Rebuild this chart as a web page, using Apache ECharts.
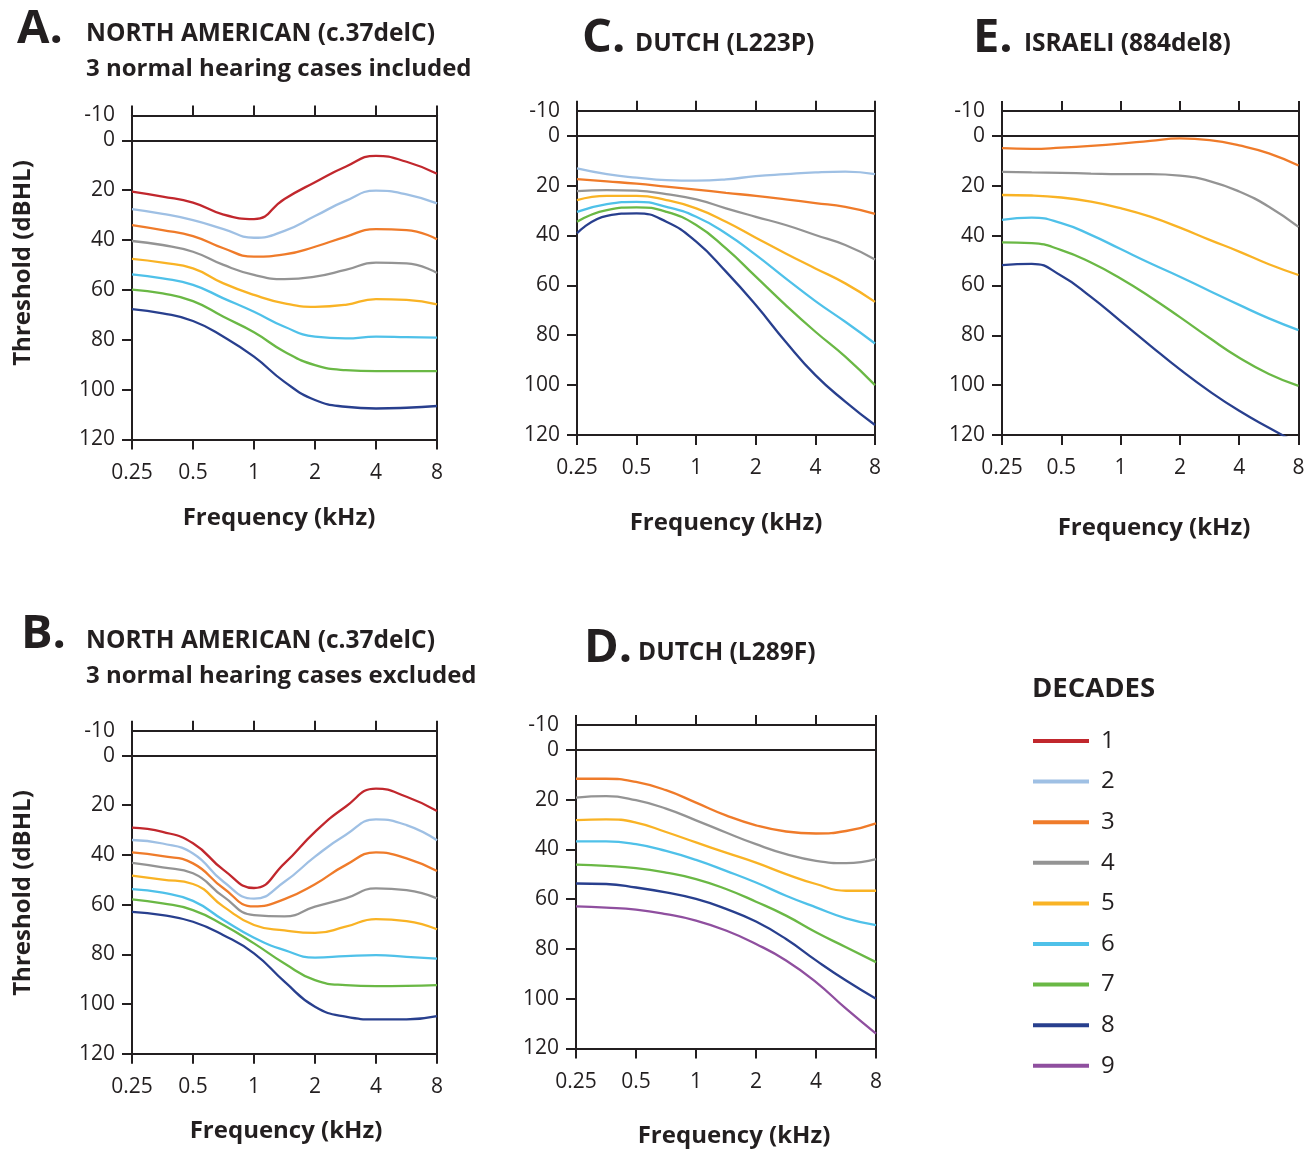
<!DOCTYPE html>
<html>
<head>
<meta charset="utf-8">
<script src="https://cdn.jsdelivr.net/npm/echarts@6/dist/echarts.min.js"></script>
<style>
  html, body { margin: 0; padding: 0; background: #fff; }
  #chart { width: 1309px; height: 1149px; }
</style>
</head>
<body>
<div id="chart"></div>
<script>
const FONT = '"Open Sans", "Noto Sans", sans-serif';
const INK = "#231f20";

// frequencies in kHz (octaves + half octaves)
const freqs = [0.25, 0.354, 0.5, 0.707, 1, 1.414, 2, 2.83, 4, 5.66, 8];
const decadeNames = ["1", "2", "3", "4", "5", "6", "7", "8", "9"];
const decadeColors = ["#c1272d", "#9fc0e4", "#ef7b2a", "#949494", "#f9b325", "#4fc1e9", "#6ab845", "#283f8e", "#8f4f9f"];
const yLabelValues = [-10, 0, 20, 40, 60, 80, 100, 120];
const yTickValues = [0, 20, 40, 60, 80, 100, 120];

// A. North American, normal hearing included
const decadesA = [1, 2, 3, 4, 5, 6, 7, 8];
const thresholdsA = [
  [20.6, 22.6, 25, 29.8, 31.6, 23.5, 16.8, 10.6, 6.2, 8.6, 13.4],
  [27.6, 29.5, 32, 35.6, 39.1, 36.3, 30.4, 24.3, 20.2, 21.7, 25.3],
  [34, 36, 38.4, 43.3, 46.7, 45.8, 42.7, 38.7, 35.6, 36, 39.7],
  [40.4, 42, 44.7, 50, 54, 55.7, 54.7, 52, 49.1, 49.4, 53.2],
  [47.6, 49.1, 51.4, 57.4, 62, 65.4, 66.8, 66, 63.7, 64, 65.8],
  [53.8, 55.4, 58, 63.4, 68.8, 74.8, 78.8, 79.5, 78.8, 79, 79.2],
  [59.9, 61.4, 64.5, 70.8, 77, 84.8, 90.2, 92.2, 92.6, 92.6, 92.6],
  [67.7, 69.4, 72.5, 78.8, 86.8, 96.9, 104.2, 106.9, 107.6, 107.3, 106.6],
];

// B. North American, normal hearing excluded
const decadesB = [1, 2, 3, 4, 5, 6, 7, 8];
const thresholdsB = [
  [29, 30.7, 35.3, 46, 53.3, 43.4, 30.7, 20.6, 13.3, 16.6, 22.3],
  [34, 35.4, 39.4, 50.8, 57.6, 50.8, 40.7, 32, 25.7, 28, 34.1],
  [39, 40.5, 43.4, 53.4, 60.7, 57.8, 51.8, 44.1, 39, 41.4, 46.5],
  [43.2, 45, 47.4, 56.8, 64.2, 64.7, 60.8, 57.5, 53.5, 54.2, 57.5],
  [48.3, 49.9, 51.7, 60.8, 68.2, 70.4, 71.4, 68.9, 65.8, 66.6, 69.9],
  [53.8, 55.2, 58.5, 66.2, 73.3, 78.3, 81.3, 80.7, 80.3, 81, 81.7],
  [57.9, 59.5, 62.2, 68.2, 75.6, 83.7, 90.4, 92.4, 92.8, 92.7, 92.4],
  [62.9, 64.2, 66.9, 72.3, 79.6, 91, 101.1, 105.1, 106.2, 106.2, 104.9],
];

// C. Dutch (L223P)
const decadesC = [2, 3, 4, 5, 6, 7, 8];
const thresholdsC = [
  [13.1, 15.4, 16.8, 17.8, 18, 17.5, 16.2, 15.4, 14.7, 14.4, 15.4],
  [17.4, 18.3, 19.2, 20.4, 21.6, 22.9, 24.1, 25.5, 27, 28.5, 31.3],
  [22.2, 21.8, 22, 23.4, 25.5, 29.1, 32.5, 35.8, 39.8, 43.8, 49.6],
  [25.8, 24.1, 24.1, 25.8, 29.1, 34.5, 40.9, 47.2, 53.2, 59.2, 66.6],
  [30.5, 27.4, 26.5, 28.5, 32.5, 39.2, 47.8, 57.2, 66.3, 74.6, 83.3],
  [34.5, 29.8, 28.7, 30.5, 35.8, 45.2, 56.5, 67.9, 78.6, 88.6, 100],
  [39.1, 32.1, 31.1, 34.5, 42.5, 54.5, 67.9, 82.6, 96, 106.6, 116],
];

// D. Dutch (L289F)
const decadesD = [3, 4, 5, 6, 7, 8, 9];
const thresholdsD = [
  [11.6, 11.6, 12.9, 16.2, 21.2, 26.3, 30.3, 32.8, 33.6, 32.6, 29.5],
  [19.2, 18.6, 20.2, 23.6, 28.3, 33.2, 37.9, 41.9, 44.6, 45.5, 43.9],
  [28.2, 27.9, 29.2, 33, 37.2, 41.3, 45.3, 49.9, 53.9, 56.6, 56.6],
  [36.8, 36.8, 37.9, 40.6, 44.2, 48.6, 53.3, 58.6, 63.3, 67.7, 70.4],
  [46.1, 46.6, 47.5, 49.3, 51.9, 55.9, 61, 66.6, 73.3, 79.3, 85.3],
  [53.7, 53.9, 55.3, 57.3, 59.9, 63.9, 69, 76, 84.6, 92.7, 100],
  [62.9, 63.4, 64.2, 66, 68.6, 72.6, 78, 84.6, 93.3, 104, 114],
];

// E. Israeli (884del8)
const decadesE = [3, 4, 5, 6, 7, 8];
const thresholdsE = [
  [4.9, 5.2, 4.7, 4, 3.1, 2, 1, 1.7, 3.8, 7, 11.9],
  [14.4, 14.6, 14.8, 15.1, 15.3, 15.3, 15.9, 18.1, 22.3, 28.4, 36.5],
  [23.7, 23.9, 24.7, 26.4, 29, 32.4, 36.8, 41.7, 46.4, 51.5, 55.8],
  [33.7, 32.8, 35, 39.7, 45.4, 51.1, 56.5, 62.2, 67.8, 73.2, 77.9],
  [42.7, 43, 45.8, 50.8, 57.2, 64.6, 72.7, 81.1, 89, 95.5, 100.3],
  [51.8, 51.3, 56.1, 64.6, 74.3, 84.1, 93.7, 102.5, 110.3, 117.1, 123.5],
];

const panels = [
  { rect: { left: 132, top: 115.4, width: 305, height: 324 }, decades: decadesA, values: thresholdsA },
  { rect: { left: 577, top: 110.8, width: 298, height: 324.2 }, decades: decadesC, values: thresholdsC },
  { rect: { left: 1002, top: 111, width: 296.5, height: 324 }, decades: decadesE, values: thresholdsE },
  { rect: { left: 132, top: 730.7, width: 305, height: 323 }, decades: decadesB, values: thresholdsB },
  { rect: { left: 576, top: 725, width: 300, height: 323.5 }, decades: decadesD, values: thresholdsD },
];

const axisLine = { show: true, onZero: false, lineStyle: { color: INK, width: 2 } };
const labelStyle = { color: INK, fontFamily: FONT, fontSize: 21 };

const grids = [];
const xAxes = [];
const yAxes = [];
const series = [];

panels.forEach((p, i) => {
  grids.push({ ...p.rect, containLabel: false });
  const xBase = {
    type: "log",
    logBase: 2,
    min: 0.25,
    max: 8,
    gridIndex: i,
    axisLine,
    splitLine: { show: false },
    axisTick: { show: true, length: 10, lineStyle: { color: INK, width: 2 } },
  };
  xAxes.push({
    ...xBase,
    position: "bottom",
    axisLabel: { ...labelStyle, margin: 23, formatter: (v) => String(+v.toFixed(2)) },
  });
  xAxes.push({ ...xBase, position: "top", axisLabel: { show: false } });
  const yBase = {
    type: "value",
    inverse: true,
    min: -10,
    max: 120,
    gridIndex: i,
    axisLine,
    splitLine: { show: false },
  };
  yAxes.push({
    ...yBase,
    position: "left",
    axisTick: { show: true, length: 10, customValues: yTickValues, lineStyle: { color: INK, width: 2 } },
    axisLabel: { ...labelStyle, margin: 17, customValues: yLabelValues },
  });
  yAxes.push({ ...yBase, position: "right", axisTick: { show: false }, axisLabel: { show: false } });

  p.decades.forEach((d, k) => {
    const color = decadeColors[d - 1];
    series.push({
      type: "line",
      name: decadeNames[d - 1],
      xAxisIndex: 2 * i,
      yAxisIndex: 2 * i,
      data: freqs.map((f, j) => [f, p.values[k][j]]),
      smooth: true,
      showSymbol: false,
      symbol: "none",
      clip: true,
      animation: false,
      lineStyle: { color, width: 2.3 },
      itemStyle: { color },
      markLine:
        k === 0
          ? {
              silent: true,
              symbol: ["none", "none"],
              label: { show: false },
              animation: false,
              lineStyle: { color: INK, width: 2, type: "solid" },
              data: [{ yAxis: 0 }],
            }
          : undefined,
    });
  });
});

const txt = (x, y, text, size, bold, extra = {}) => ({
  type: "text",
  x,
  y,
  silent: true,
  ...extra,
  style: {
    text,
    fill: INK,
    font: `${bold ? "bold " : ""}${size}px ${FONT}`,
    textAlign: extra.align || "left",
    align: extra.align || "left",
    textVerticalAlign: "middle",
    verticalAlign: "middle",
  },
});

const graphic = [
  txt(17, 30, "A.", 47, true),
  txt(86, 34, "NORTH AMERICAN (c.37delC)", 24.5, true),
  txt(86, 69, "3 normal hearing cases included", 24, true),
  txt(582, 39, "C.", 47, true),
  txt(635, 44, "DUTCH (L223P)", 24.5, true),
  txt(973, 39, "E.", 47, true),
  txt(1024, 44, "ISRAELI (884del8)", 24.5, true),
  txt(21, 635, "B.", 47, true),
  txt(86, 641, "NORTH AMERICAN (c.37delC)", 24.5, true),
  txt(86, 676, "3 normal hearing cases excluded", 24, true),
  txt(584, 649, "D.", 47, true),
  txt(638, 653, "DUTCH (L289F)", 24.5, true),
  txt(1032, 689, "DECADES", 27.5, true),
  txt(279, 518, "Frequency (kHz)", 24, true, { align: "center" }),
  txt(726, 523, "Frequency (kHz)", 24, true, { align: "center" }),
  txt(1154, 528, "Frequency (kHz)", 24, true, { align: "center" }),
  txt(286, 1131, "Frequency (kHz)", 24, true, { align: "center" }),
  txt(734, 1136, "Frequency (kHz)", 24, true, { align: "center" }),
  txt(23, 263, "Threshold (dBHL)", 24, true, { align: "center", rotation: Math.PI / 2 }),
  txt(23, 893, "Threshold (dBHL)", 24, true, { align: "center", rotation: Math.PI / 2 }),
];

const chart = echarts.init(document.getElementById("chart"), null, { renderer: "canvas" });
chart.setOption({
  backgroundColor: "#fff",
  animation: false,
  grid: grids,
  xAxis: xAxes,
  yAxis: yAxes,
  series,
  graphic,
  legend: {
    orient: "vertical",
    left: 1028,
    top: 724,
    icon: "rect",
    itemWidth: 56,
    itemHeight: 4,
    itemGap: 16.6,
    selectedMode: false,
    data: decadeNames,
    textStyle: { color: INK, fontFamily: FONT, fontSize: 24, lineHeight: 24, padding: [0, 0, 0, 7] },
  },
});
</script>
</body>
</html>
